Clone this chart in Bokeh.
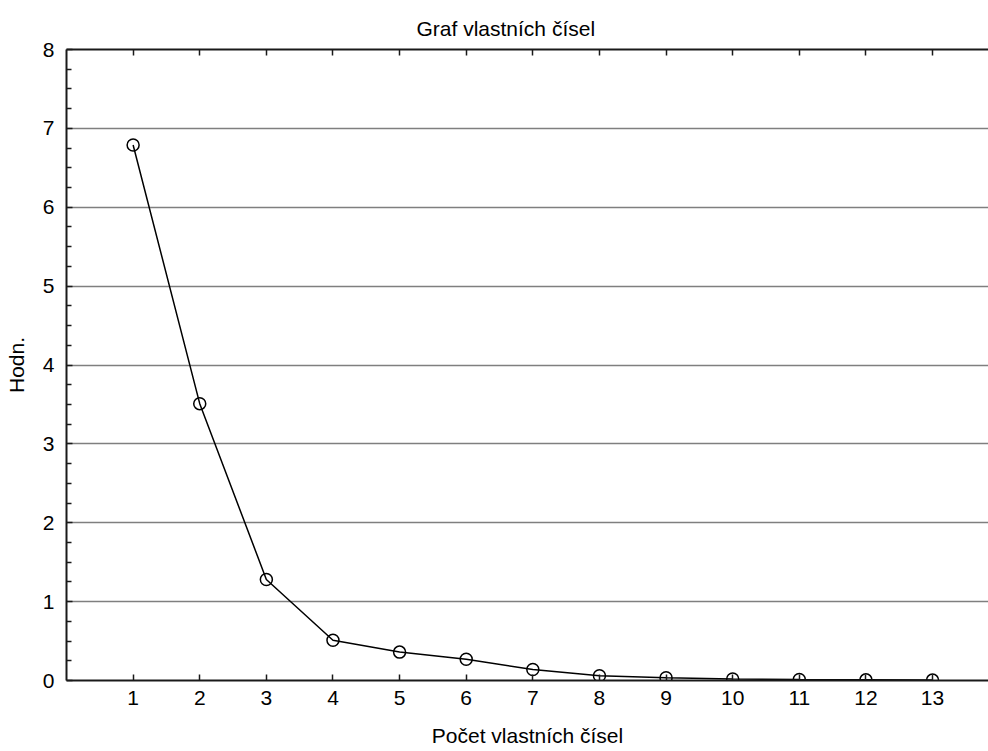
from bokeh.plotting import figure
from bokeh.models import LinearAxis, FixedTicker, Range1d, Grid, ColumnDataSource
from bokeh.embed import file_html
from bokeh.resources import INLINE

# ---- data ----
count = [1, 2, 3, 4, 5, 6, 7, 8, 9, 10, 11, 12, 13]
values = [6.79, 3.51, 1.28, 0.51, 0.36, 0.27, 0.14, 0.06, 0.034, 0.02, 0.012, 0.008, 0.005]
y_ticks = [0, 1, 2, 3, 4, 5, 6, 7, 8]
y_minor = [t + f for t in y_ticks[:-1] for f in (0.25, 0.5, 0.75)]
title_text = "Graf vlastních čísel"
x_label = "Počet vlastních čísel"
y_label = "Hodn."

FONT = "Liberation Sans"
FS = "21px"

src = ColumnDataSource(dict(x=count, y=values))

p = figure(width=988, height=751, x_range=Range1d(0, 13.84), y_range=Range1d(0, 8),
           x_axis_type=None, y_axis_type=None,
           output_backend="svg", toolbar_location=None,
           min_border_left=66, min_border_right=0, min_border_top=49, min_border_bottom=71)
p.outline_line_color = None
p.background_fill_color = "white"
p.border_fill_color = "white"

p.title.text = title_text
p.title.align = "left"
p.title.offset = 350
p.title.text_font = FONT
p.title.text_font_size = FS
p.title.text_font_style = "normal"
p.title.text_color = "black"
p.title.standoff = 20

def style_axis(ax):
    ax.axis_line_color = "#1a1a1a"
    ax.axis_line_width = 2
    ax.major_tick_in = 6
    ax.major_tick_out = 0
    ax.major_tick_line_color = "#1a1a1a"
    ax.major_tick_line_width = 1.5
    ax.minor_tick_in = 5
    ax.minor_tick_out = 0
    ax.minor_tick_line_color = "#1a1a1a"
    ax.minor_tick_line_width = 1.5
    ax.major_label_text_font = FONT
    ax.major_label_text_font_size = FS
    ax.major_label_text_color = "black"
    ax.axis_label_text_font = FONT
    ax.axis_label_text_font_size = FS
    ax.axis_label_text_font_style = "normal"
    ax.axis_label_text_color = "black"

xb = LinearAxis(ticker=FixedTicker(ticks=count), axis_label=x_label)
style_axis(xb)
xb.major_label_standoff = 10
xb.axis_label_standoff = 16
p.add_layout(xb, "below")

# top frame edge: ticks only, its labels are never painted
xt = LinearAxis(ticker=FixedTicker(ticks=count))
style_axis(xt)
xt.major_label_text_font_size = "0px"
xt.major_label_text_color = None
xt.major_label_standoff = 0
p.add_layout(xt, "above")

yl = LinearAxis(ticker=FixedTicker(ticks=y_ticks, minor_ticks=y_minor), axis_label=y_label)
style_axis(yl)
yl.major_label_standoff = 12
yl.axis_label_standoff = 12
p.add_layout(yl, "left")

grid = Grid(dimension=1, ticker=FixedTicker(ticks=y_ticks))
grid.grid_line_color = "#7f7f7f"
grid.grid_line_width = 1.5
p.add_layout(grid)

p.line("x", "y", source=src, line_color="black", line_width=1.5)
p.scatter("x", "y", source=src, marker="circle", size=12, fill_color=None,
          line_color="black", line_width=1.5)

open("out.html", "w").write(file_html(p, INLINE))
